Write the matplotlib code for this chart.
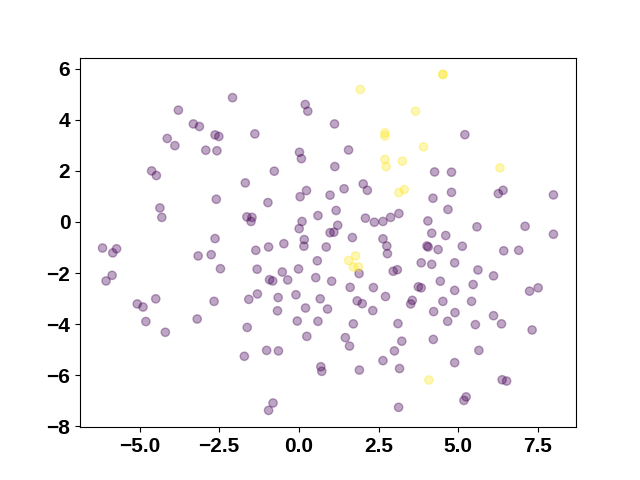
import matplotlib
matplotlib.use("Agg")
import matplotlib.pyplot as plt
from matplotlib.ticker import MultipleLocator
import numpy as np

plt.rcParams['font.family'] = ['Liberation Sans', 'DejaVu Sans']

# purple group (label 0)
x0 = [-3.78, -3.31, -3.12, -4.13, -3.89, -2.92, -4.62, -4.47, -4.36, -4.30,
      -6.16, -5.84, -5.72, -5.86, -6.05, -5.07, -4.89, -4.49, -4.80, -3.16,
      -4.19, -3.19,
      -2.08, 0.20, 0.28, -2.63, -2.51, -1.38, -2.57, 0.02, 0.08, -0.77,
      -1.68, -2.59, 0.24, 0.04, 0.98, -0.97, 0.60, -1.63, -1.47, -1.50,
      0.10, 0.01, -2.63, 0.98, 1.10, 0.17,
      -2.75, -1.35, -0.95, -0.47, 0.16, 0.86, -2.46, -1.31, -0.52, -0.01,
      0.58, -0.92, -0.82, -0.35, 0.53, 1.03, -2.66, -1.57, -1.30, -0.65,
      -0.09, 0.67, -0.67, 0.21, 0.90, -0.05, 0.60, -1.62, 0.25, -1.01,
      -0.64, -1.71, 0.69, 0.72, -0.81, -0.95,
      1.12, 1.56, 1.13, 4.26, 4.79, 2.02, 2.15, 1.42, 4.21, 4.79,
      1.17, 4.68, 2.09, 2.37, 2.64, 2.88, 3.14, 1.22, 4.05, 1.68,
      2.64, 4.17, 4.61,
      2.76, 2.78, 4.02, 4.06, 4.37, 1.89, 3.84, 4.17, 4.89, 2.96,
      3.09, 1.61, 2.34, 2.72, 3.75, 3.84, 4.44, 4.89, 1.83, 1.99,
      2.32, 3.51, 3.56, 4.52, 4.23, 4.90, 1.71, 3.11, 4.67, 1.46,
      1.59, 3.23, 4.22, 3.00, 2.64, 1.90, 3.16, 4.89, 3.13,
      5.21, 6.26, 6.41, 7.99, 5.59, 7.10, 7.99,
      5.13, 6.43, 6.90, 5.62, 6.11, 5.47, 7.24, 7.51, 5.42, 6.11,
      5.54, 6.36, 7.32, 5.65, 6.38, 6.52, 5.25, 5.18]
y0 = [4.38, 3.84, 3.74, 3.27, 2.99, 2.81, 2.00, 1.82, 0.55, 0.18,
      -1.02, -1.21, -1.05, -2.09, -2.31, -3.21, -3.33, -3.01, -3.90, -1.33,
      -4.32, -3.80,
      4.87, 4.60, 4.34, 3.41, 3.35, 3.45, 2.79, 2.73, 2.48, 1.99,
      1.53, 0.89, 1.23, 0.99, 1.05, 0.76, 0.25, 0.20, 0.18, 0.02,
      0.02, -0.26, -0.65, -0.42, -0.40, -0.69,
      -1.28, -1.11, -0.98, -0.85, -0.95, -0.98, -1.83, -1.85, -1.96, -1.84,
      -1.52, -2.26, -2.31, -2.27, -2.18, -2.32, -3.11, -3.03, -2.82, -2.96,
      -2.85, -3.01, -3.48, -3.37, -3.41, -3.88, -3.89, -4.13, -4.48, -5.03,
      -5.05, -5.26, -5.67, -5.85, -7.09, -7.38,
      3.84, 2.82, 2.17, 1.96, 1.95, 1.49, 1.24, 1.30, 0.93, 1.16,
      0.45, 0.49, 0.15, -0.01, 0.02, 0.18, 0.33, -0.13, 0.04, -0.61,
      -0.66, -0.44, -0.53,
      -0.94, -1.24, -0.94, -0.98, -1.08, -2.02, -1.60, -1.66, -1.60, -1.93,
      -1.87, -2.56, -2.57, -2.92, -2.54, -2.58, -2.32, -2.68, -3.09, -3.20,
      -3.47, -3.21, -3.07, -3.11, -3.51, -3.55, -3.99, -3.98, -3.89, -4.53,
      -4.86, -4.67, -4.60, -5.05, -5.43, -5.80, -5.74, -5.51, -7.26,
      3.42, 1.11, 1.24, 1.06, -0.19, -0.17, -0.48,
      -0.95, -1.13, -1.11, -1.88, -2.11, -2.45, -2.71, -2.58, -3.11, -3.67,
      -4.02, -3.99, -4.23, -5.03, -6.18, -6.23, -6.85, -6.99]

# yellow group (label 1)
x1 = [4.52, 4.52, 1.93, 3.66, 2.70, 2.70, 3.91, 2.70, 2.74, 3.25,
      3.14, 3.31, 6.31, 1.56, 1.78, 1.71, 1.87, 4.08]
y1 = [5.78, 5.78, 5.19, 4.34, 3.49, 3.37, 2.94, 2.45, 2.17, 2.38,
      1.15, 1.27, 2.12, -1.51, -1.33, -1.76, -1.76, -6.19]

xs = np.array(x0 + x1)
ys = np.array(y0 + y1)
labels = np.array([0] * len(x0) + [1] * len(x1))

fig, ax = plt.subplots(figsize=(6.4, 4.8), dpi=100)
ax.scatter(xs, ys, c=labels, cmap='viridis', alpha=0.35)
ax.xaxis.set_major_locator(MultipleLocator(2.5))

for lab in ax.get_xticklabels() + ax.get_yticklabels():
    lab.set_fontweight('bold')
    lab.set_fontsize(15)

plt.savefig('out.png')
